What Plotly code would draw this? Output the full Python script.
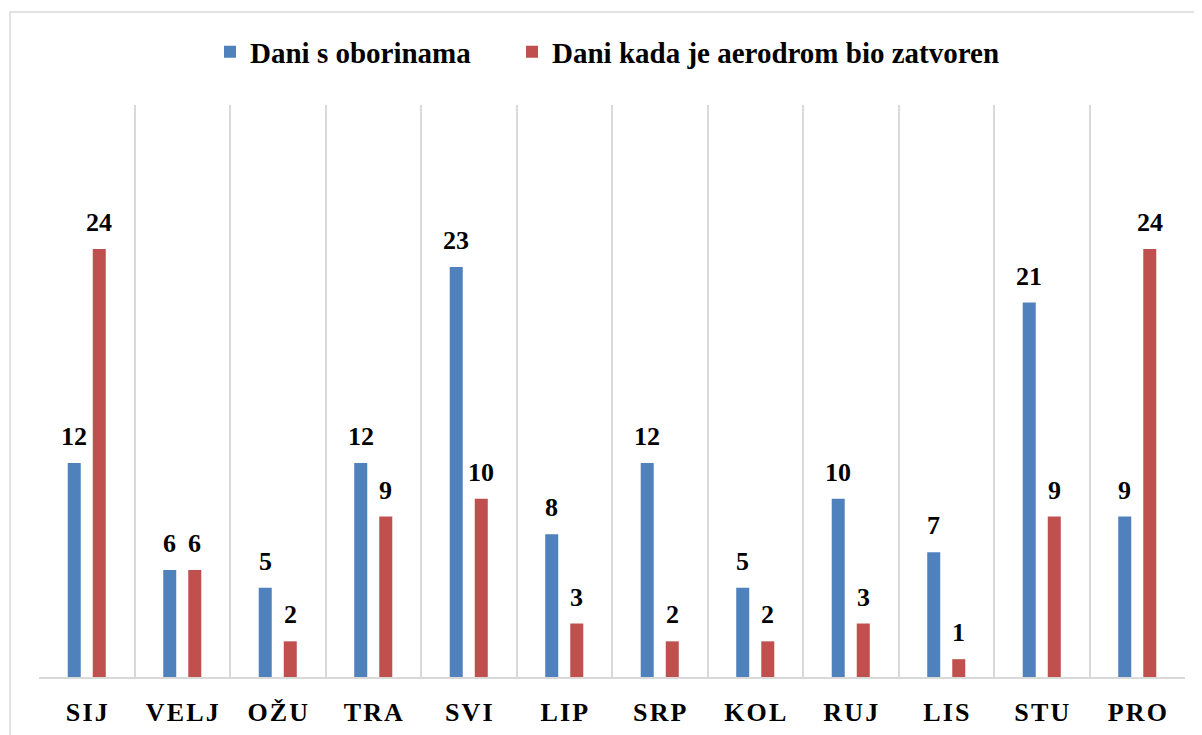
import plotly.graph_objects as go

months = ["SIJ", "VELJ", "OŽU", "TRA", "SVI", "LIP", "SRP", "KOL", "RUJ", "LIS", "STU", "PRO"]
rain_days = [12, 6, 5, 12, 23, 8, 12, 5, 10, 7, 21, 9]
closed_days = [24, 6, 2, 9, 10, 3, 2, 2, 3, 1, 9, 24]
series_names = ["Dani s oborinama", "Dani kada je aerodrom bio zatvoren"]

BLUE = "#4F81BD"
RED = "#C0504D"
FONT = "Liberation Serif"
GRID = "#D9D9D9"

fig = go.Figure()
fig.add_trace(go.Bar(x=months, y=rain_days, name=series_names[0], marker_color=BLUE,
                     marker_line_width=0, legend="legend"))
fig.add_trace(go.Bar(x=months, y=closed_days, name=series_names[1], marker_color=RED,
                     marker_line_width=0, legend="legend2"))

annotations = []
for vals, shift in ((rain_days, -12.5), (closed_days, 12.5)):
    for m, v in zip(months, vals):
        annotations.append(dict(x=m, y=v, xref="x", yref="y", text=str(v), showarrow=False,
                                xshift=shift, yanchor="bottom", yshift=10,
                                font=dict(family=FONT, size=26, color="black", weight="bold")))

ticktext = ["\u200a".join(m) for m in months]

legend_font = dict(family=FONT, size=29, color="black", weight="bold")
fig.update_layout(
    width=1194, height=727,
    margin=dict(l=31, r=17, t=97, b=58, autoexpand=False),
    paper_bgcolor="white", plot_bgcolor="white",
    barmode="group", bargap=0.476, bargroupgap=0.48,
    showlegend=True,
    legend=dict(orientation="h", x=(210 - 39) / 1146, xanchor="left", y=1.093, yanchor="middle",
                font=legend_font, itemwidth=30, bgcolor="rgba(0,0,0,0)"),
    legend2=dict(orientation="h", x=(512 - 39) / 1146, xanchor="left", y=1.093, yanchor="middle",
                 font=legend_font, itemwidth=30, bgcolor="rgba(0,0,0,0)"),
    annotations=annotations,
    shapes=[dict(type="rect", xref="paper", yref="paper",
                 x0=(10 - 39) / 1146, x1=(1230 - 39) / 1146,
                 y0=(677 - 760) / 572, y1=(677 - 12) / 572,
                 line=dict(color=GRID, width=1.5), fillcolor="rgba(0,0,0,0)", layer="below")],
)
fig.update_xaxes(type="category", tickson="boundaries", showgrid=True, gridcolor=GRID, gridwidth=2,
                 showline=True, linecolor=GRID, linewidth=2, ticks="", automargin=False,
                 tickvals=months, ticktext=ticktext, ticklabelstandoff=11,
                 tickfont=dict(family=FONT, size=26, color="black", weight="bold"))
fig.update_yaxes(range=[0, 32.08], showgrid=False, showticklabels=False, zeroline=False,
                 showline=False, automargin=False)

fig.write_html("out.html")
